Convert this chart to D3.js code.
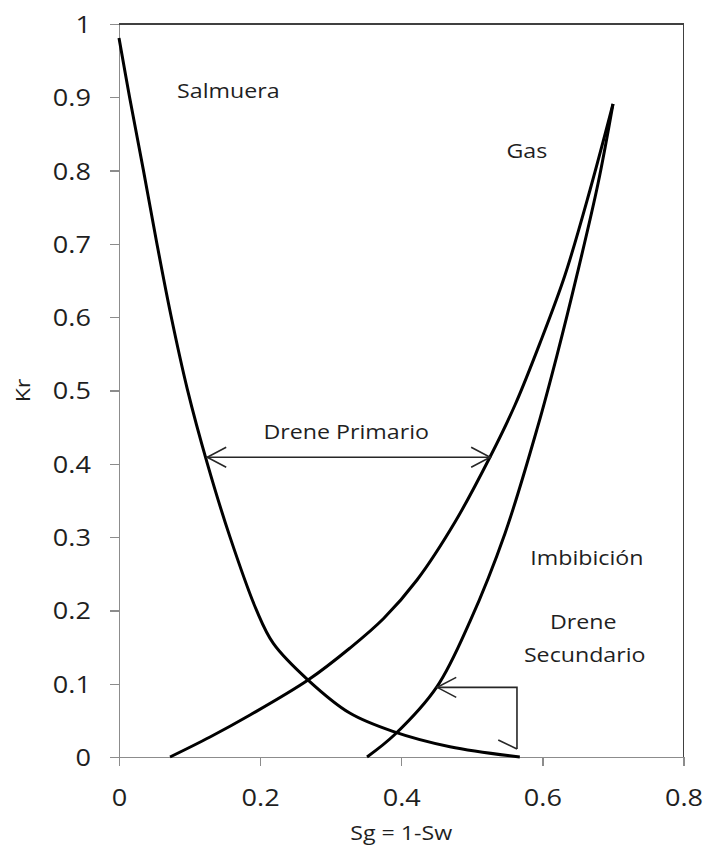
<!doctype html>
<html>
    <head>
        <style>
            body {margin:0; background:#fff}
            svg {display:block}
            text {font-family:"Open Sans", sans-serif; fill:#1f1f1f}
            .axis path, .axis line {fill:none; stroke:#8c8c8c; stroke-width:1.3px; shape-rendering:crispEdges}
            .axis text {font-size:24px}
            .frame {fill:none; stroke:#404040; stroke-width:1.6px; shape-rendering:crispEdges}
            .curve {fill:none; stroke:#000; stroke-width:3px}
            .arrow {fill:none; stroke:#262626; stroke-width:1.6px}
            .label {font-size:20px}
        </style>
        <script src="https://d3js.org/d3.v7.min.js"></script>
    </head>
    <body>
        <script>
            // curves (Sg, Kr)
            var salmueraSg = [0, 0.015, 0.0345, 0.0534, 0.0737, 0.0968, 0.125, 0.157, 0.195, 0.2187, 0.268, 0.327, 0.388, 0.469, 0.568];
            var salmueraKr = [0.981, 0.900, 0.801, 0.702, 0.602, 0.502, 0.401, 0.301, 0.200, 0.155, 0.105, 0.060, 0.035, 0.014, 0];

            var gasPrimSg = [0.0723, 0.129, 0.1857, 0.2679, 0.3274, 0.375, 0.4223, 0.4762, 0.5258, 0.5612, 0.5967, 0.6321, 0.6675, 0.7001];
            var gasPrimKr = [0, 0.0273, 0.0573, 0.1050, 0.1487, 0.189, 0.2415, 0.3206, 0.4093, 0.4802, 0.565, 0.6576, 0.7735, 0.8909];

            var gasSecSg = [0.3515, 0.3912, 0.4507, 0.4974, 0.5470, 0.5938, 0.6207, 0.6491, 0.6788, 0.7001];
            var gasSecKr = [0, 0.031, 0.096, 0.185, 0.305, 0.452, 0.548, 0.658, 0.782, 0.891];

            // arrows
            var primArrowSg = [0.125, 0.526];
            var primArrowKr = [0.409, 0.409];
            var secArrowSg = [0.564, 0.564, 0.451];
            var secArrowKr = [0.011, 0.095, 0.095];

            // ticks
            var xTicks = [0, 0.2, 0.4, 0.6, 0.8];
            var xTickLabels = ["0", "0.2", "0.4", "0.6", "0.8"];
            var yTicks = [0, 0.1, 0.2, 0.3, 0.4, 0.5, 0.6, 0.7, 0.8, 0.9, 1];
            var yTickLabels = ["0", "0.1", "0.2", "0.3", "0.4", "0.5", "0.6", "0.7", "0.8", "0.9", "1"];

            // text labels (Sg, Kr of the baseline centre)
            var labelText = ["Salmuera", "Gas", "Drene Primario", "Imbibición", "Drene", "Secundario"];
            var labelSg = [0.155, 0.578, 0.322, 0.663, 0.658, 0.660];
            var labelKr = [0.899, 0.817, 0.434, 0.262, 0.174, 0.130];

            //globals
            var W = 706, H = 850;
            var padL = 119, padR = 683.5, padT = 24, padB = 757;
            var sx = 1.16; // the reference text is a bit wide

            var svg = d3.select("body").append("svg")
                .attr("width", W).attr("height", H);

            var x = d3.scaleLinear().domain([0, 0.8]).range([padL, padR]);
            var y = d3.scaleLinear().domain([0, 1]).range([padB, padT]);

            var defs = svg.append("defs");
            defs.append("marker")
                .attr("id", "open")
                .attr("markerUnits", "userSpaceOnUse")
                .attr("orient", "auto-start-reverse")
                .attr("markerWidth", 40).attr("markerHeight", 40)
                .attr("overflow", "visible")
                .append("path")
                .attr("d", "M-19,-10L0,0L-19,10")
                .attr("fill", "none").attr("stroke", "#262626").attr("stroke-width", 1.6);
            defs.append("marker")
                .attr("id", "half")
                .attr("markerUnits", "userSpaceOnUse")
                .attr("orient", "auto")
                .attr("markerWidth", 40).attr("markerHeight", 40)
                .attr("overflow", "visible")
                .append("path")
                .attr("d", "M9,-18.7L0,0")
                .attr("fill", "none").attr("stroke", "#262626").attr("stroke-width", 1.6);

            //plot area border (top and right)
            svg.append("path")
                .attr("class", "frame")
                .attr("d", "M" + x(0) + "," + y(1) + "H" + x(0.8) + "V" + y(0));

            //axes
            var xAxis = svg.append("g")
                .attr("class", "axis")
                .attr("transform", "translate(0," + y(0) + ")")
                .call(d3.axisBottom(x).tickValues(xTicks).tickSize(9).tickSizeOuter(0)
                    .tickFormat(function(d, i){ return xTickLabels[i]; }));
            xAxis.selectAll("text")
                .attr("y", 49).attr("dy", 0)
                .attr("transform", "scale(" + 1.13 + ",1)");

            var yAxis = svg.append("g")
                .attr("class", "axis")
                .attr("transform", "translate(" + x(0) + ",0)")
                .call(d3.axisLeft(y).tickValues(yTicks).tickSize(9).tickSizeOuter(0)
                    .tickFormat(function(d, i){ return yTickLabels[i]; }));
            yAxis.selectAll("text")
                .attr("x", -28 / 1.13).attr("dy", "0.35em")
                .attr("transform", "scale(" + 1.13 + ",1)");

            //curves
            var line = d3.line()
                .x(function(d){ return x(d[0]); })
                .y(function(d){ return y(d[1]); })
                .curve(d3.curveCatmullRom.alpha(0.5));

            [[salmueraSg, salmueraKr], [gasPrimSg, gasPrimKr], [gasSecSg, gasSecKr]].forEach(function(s){
                svg.append("path")
                    .attr("class", "curve")
                    .attr("d", line(d3.zip(s[0], s[1])));
            });

            //arrows
            var straight = d3.line()
                .x(function(d){ return x(d[0]); })
                .y(function(d){ return y(d[1]); });

            svg.append("path")
                .attr("class", "arrow")
                .attr("d", straight(d3.zip(primArrowSg, primArrowKr)))
                .attr("marker-start", "url(#open)")
                .attr("marker-end", "url(#open)");

            svg.append("path")
                .attr("class", "arrow")
                .attr("d", straight(d3.zip(secArrowSg, secArrowKr)))
                .attr("marker-start", "url(#half)")
                .attr("marker-end", "url(#open)");

            //labels
            labelText.forEach(function(t, i){
                svg.append("g")
                    .attr("transform", "translate(" + x(labelSg[i]) + "," + y(labelKr[i]) + ") scale(" + sx + ",1)")
                    .append("text")
                    .attr("class", "label")
                    .attr("text-anchor", "middle")
                    .text(t);
            });

            //axis titles
            svg.append("g")
                .attr("transform", "translate(" + ((padL + padR) / 2) + ",840) scale(" + sx + ",1)")
                .append("text")
                .attr("class", "label")
                .attr("text-anchor", "middle")
                .text("Sg = 1-Sw");

            svg.append("g")
                .attr("transform", "translate(30," + ((padT + padB) / 2) + ") rotate(-90) scale(" + sx + ",1)")
                .append("text")
                .attr("class", "label")
                .attr("text-anchor", "middle")
                .text("Kr");
        </script>
    </body>
</html>
